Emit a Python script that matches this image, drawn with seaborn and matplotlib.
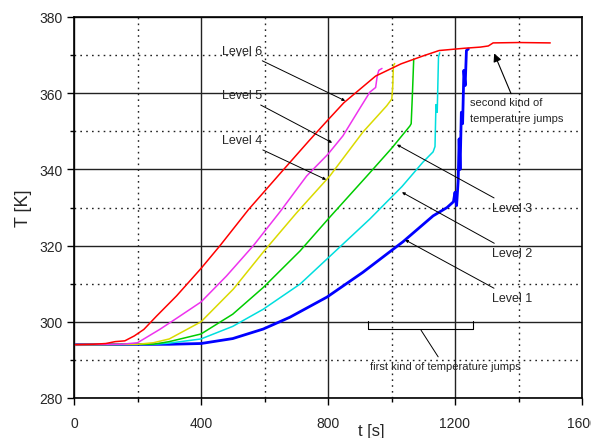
import matplotlib
matplotlib.use('Agg')
import matplotlib.pyplot as plt
import seaborn as sns
import pandas as pd

sns.set_style("ticks")
plt.rcParams['font.family'] = ['Liberation Sans', 'DejaVu Sans']

# temperature curves at the six levels
red_t = [0, 60, 100, 130, 160, 190, 220, 260, 323, 400, 460, 550, 650, 740, 800, 850, 890,
         950, 1030, 1100, 1150, 1230, 1280, 1305, 1320, 1400, 1500]
red_T = [294.0, 294.1, 294.3, 294.8, 295.0, 296.3, 298.0, 301.5, 306.8, 314.0, 320.0, 329.5,
         339.0, 347.5, 353.0, 357.5, 360.3, 364.5, 367.7, 369.8, 371.2, 371.8, 372.1, 372.4,
         373.2, 373.3, 373.2]

magenta_t = [0, 150, 200, 270, 330, 400, 480, 565, 650, 733, 800, 847, 900, 932, 950, 955, 960, 970]
magenta_T = [294.0, 294.1, 294.5, 298.0, 301.3, 305.2, 312.0, 320.0, 329.0, 338.3, 344.0, 348.8,
             356.0, 360.3, 361.5, 364.5, 366.0, 366.5]

yellow_t = [0, 200, 250, 300, 400, 502, 596, 700, 806, 910, 985, 1001, 1004, 1006, 1010]
yellow_T = [294.0, 294.1, 294.5, 295.5, 300.0, 308.6, 318.3, 328.5, 338.3, 349.8, 356.7, 358.5,
            362.0, 367.2, 367.8]

green_t = [0, 250, 300, 400, 500, 596, 712, 806, 923, 1000, 1058, 1062, 1066, 1070]
green_T = [294.0, 294.1, 294.8, 296.8, 302.0, 309.0, 318.6, 327.5, 338.3, 345.5, 351.4, 352.0,
           360.0, 369.0]

cyan_t = [0, 250, 300, 400, 500, 596, 712, 797, 932, 1033, 1099, 1131, 1137, 1140, 1144, 1148, 1152]
cyan_T = [294.0, 294.1, 294.4, 295.5, 298.8, 303.3, 309.9, 316.5, 327.0, 335.5, 341.9, 344.6,
          346.0, 357.0, 355.0, 369.5, 370.6]

blue_t = [0, 300, 400, 500, 596, 680, 797, 910, 1036, 1131, 1175, 1195, 1200, 1205, 1210, 1213,
          1216, 1220, 1224, 1228, 1232, 1236, 1242]
blue_T = [294.0, 294.1, 294.3, 295.6, 298.1, 301.2, 306.5, 313.0, 321.0, 327.8, 330.0, 331.5,
          334.0, 330.5, 337.0, 348.0, 340.0, 355.0, 352.0, 366.0, 362.0, 371.2, 371.6]

levels = ['Level 1', 'Level 2', 'Level 3', 'Level 4', 'Level 5', 'Level 6']
colors = ['#0000ff', '#00dede', '#00cc00', '#dada00', '#ee33ee', '#ff0000']
series = [(blue_t, blue_T), (cyan_t, cyan_T), (green_t, green_T),
          (yellow_t, yellow_T), (magenta_t, magenta_T), (red_t, red_T)]

frames = []
for name, (t, T) in zip(levels, series):
    frames.append(pd.DataFrame({'t': t, 'T': T, 'level': name}))
df = pd.concat(frames, ignore_index=True)

fig = plt.figure(figsize=(5.91, 4.39), dpi=100)
ax = fig.add_axes([74 / 591, 40 / 439, 508 / 591, 381 / 439])

for name, col in zip(levels, colors):
    sub = df[df['level'] == name]
    sns.lineplot(data=sub, x='t', y='T', color=col, sort=False, estimator=None,
                 lw=2.0 if name == 'Level 1' else 1.1, ax=ax, legend=False)

ax.set_xlim(0, 1600)
ax.set_ylim(280, 380)
ax.set_xticks([0, 400, 800, 1200, 1600])
ax.set_xticks([200, 600, 1000, 1400], minor=True)
ax.set_yticks([280, 300, 320, 340, 360, 380])
ax.set_yticks([290, 310, 330, 350, 370], minor=True)
ax.set_axisbelow(True)
ax.grid(which='major', color='#222222', lw=1.0, ls='-')
ax.grid(which='minor', color='#222222', lw=1.0, ls=(0, (1.2, 3)))
ax.tick_params(axis='both', which='major', length=5, width=1, color='black', labelsize=10)
ax.tick_params(axis='both', which='minor', length=3, width=1, color='black')
ax.tick_params(axis='x', pad=8)
ax.tick_params(axis='y', pad=3)
for sp in ax.spines.values():
    sp.set_visible(True)
    sp.set_color('black')
    sp.set_linewidth(1.2)

ax.set_xlabel('t [s]', fontsize=12)
ax.set_ylabel('T [K]', fontsize=13)
ax.xaxis.set_label_coords(0.585, -0.066)
ax.yaxis.set_label_coords(-0.082, 0.5)

arrow = dict(arrowstyle='-|>', lw=0.7, color='black', mutation_scale=4, shrinkA=1, shrinkB=0)
ax.annotate('Level 6', xy=(854, 358.0), xytext=(592, 371.1), ha='right', va='center',
            fontsize=9, arrowprops=arrow)
ax.annotate('Level 5', xy=(813, 347.0), xytext=(592, 359.5), ha='right', va='center',
            fontsize=9, arrowprops=arrow)
ax.annotate('Level 4', xy=(794, 337.3), xytext=(592, 347.7), ha='right', va='center',
            fontsize=9, arrowprops=arrow)
ax.annotate('Level 3', xy=(1017, 346.5), xytext=(1317, 329.9), ha='left', va='center',
            fontsize=9, arrowprops=arrow)
ax.annotate('Level 2', xy=(1033, 334.0), xytext=(1317, 318.0), ha='left', va='center',
            fontsize=9, arrowprops=arrow)
ax.annotate('Level 1', xy=(1043, 321.5), xytext=(1317, 306.2), ha='left', va='center',
            fontsize=9, arrowprops=arrow)

ax.annotate('', xy=(1320, 371.1), xytext=(1380, 359.2),
            arrowprops=dict(arrowstyle='-|>', lw=0.8, color='black', mutation_scale=12))
ax.text(1247, 357.7, 'second kind of', fontsize=8, ha='left', va='center')
ax.text(1247, 353.5, 'temperature jumps', fontsize=8, ha='left', va='center')

ax.plot([927, 927, 1256, 1256], [300.3, 298.1, 298.1, 300.3], color='black', lw=0.8)
ax.plot([1093, 1147], [297.8, 290.8], color='black', lw=0.7)
ax.text(1169, 288.4, 'first kind of temperature jumps', fontsize=8, ha='center', va='center')

fig.savefig('out.png', dpi=100)
